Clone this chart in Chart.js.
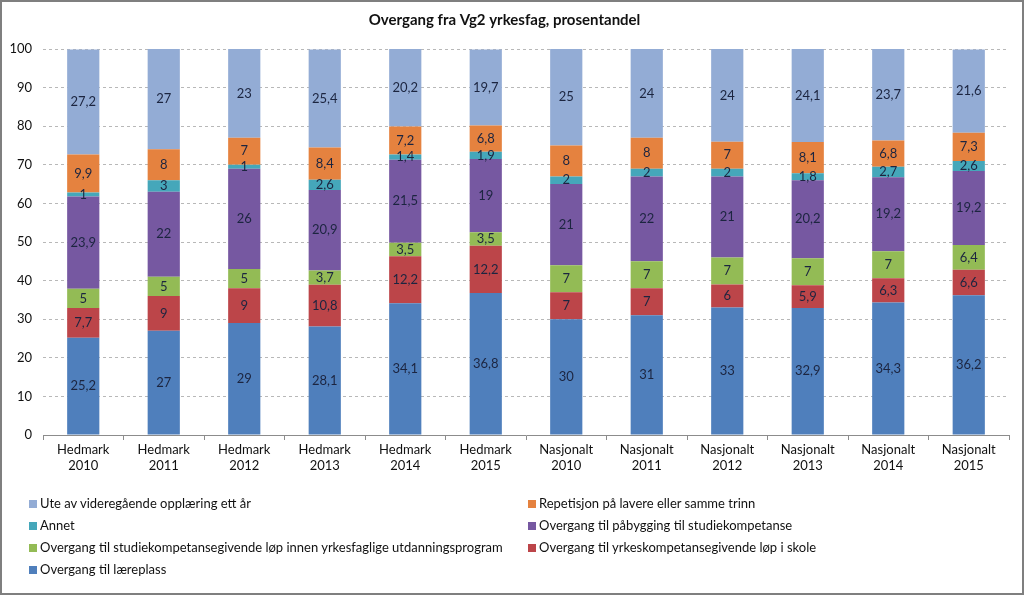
<!DOCTYPE html>
<html>
<head>
<meta charset="utf-8">
<script src="https://cdn.jsdelivr.net/npm/chart.js@4"></script>
<style>
    body { margin: 0; background: #fff; font-family: Lato, "Open Sans", sans-serif; }
    #wrap { position: relative; width: 1024px; height: 595px; }
    #frame { position: absolute; left: 0; top: 0; width: 1024px; height: 595px; box-sizing: border-box;
             border: 2px solid #7f7f7f; pointer-events: none; }
    #legend { position: absolute; left: 0; top: 492px; width: 1024px; }
    .item { position: absolute; font-size: 13px; color: #111; white-space: nowrap; line-height: 22px; }
    .item span.box { display: inline-block; width: 8px; height: 8px; margin-right: 3px; vertical-align: 0px; }
</style>
</head>
<body>
<div id="wrap">
    <canvas id="chart" width="1024" height="595"></canvas>
    <div id="legend"></div>
    <div id="frame"></div>
</div>
<script>
const categories = [
    ['Hedmark', '2010'], ['Hedmark', '2011'], ['Hedmark', '2012'], ['Hedmark', '2013'],
    ['Hedmark', '2014'], ['Hedmark', '2015'], ['Nasjonalt', '2010'], ['Nasjonalt', '2011'],
    ['Nasjonalt', '2012'], ['Nasjonalt', '2013'], ['Nasjonalt', '2014'], ['Nasjonalt', '2015']
];
const yTicks = [0, 10, 20, 30, 40, 50, 60, 70, 80, 90, 100];

const laereplass = [25.2, 27, 29, 28.1, 34.1, 36.8, 30, 31, 33, 32.9, 34.3, 36.2];
const yrkesSkole = [7.7, 9, 9, 10.8, 12.2, 12.2, 7, 7, 6, 5.9, 6.3, 6.6];
const studieYrkesfag = [5, 5, 5, 3.7, 3.5, 3.5, 7, 7, 7, 7, 7, 6.4];
const paabygging = [23.9, 22, 26, 20.9, 21.5, 19, 21, 22, 21, 20.2, 19.2, 19.2];
const annet = [1, 3, 1, 2.6, 1.4, 1.9, 2, 2, 2, 1.8, 2.7, 2.6];
const repetisjon = [9.9, 8, 7, 8.4, 7.2, 6.8, 8, 8, 7, 8.1, 6.8, 7.3];
const uteAv = [27.2, 27, 23, 25.4, 20.2, 19.7, 25, 24, 24, 24.1, 23.7, 21.6];

const FONT = 'Lato, "Open Sans", sans-serif';

// bottom-up stacking order, same as the original chart
const series = [
    { label: 'Overgang til læreplass', data: laereplass, color: '#4f7fbc' },
    { label: 'Overgang til yrkeskompetansegivende løp i skole', data: yrkesSkole, color: '#bc4549' },
    { label: 'Overgang til studiekompetansegivende løp innen yrkesfaglige utdanningsprogram', data: studieYrkesfag, color: '#93bb55' },
    { label: 'Overgang til påbygging til studiekompetanse', data: paabygging, color: '#7658a1' },
    { label: 'Annet', data: annet, color: '#45a7ba' },
    { label: 'Repetisjon på lavere eller samme trinn', data: repetisjon, color: '#e5823f' },
    { label: 'Ute av videregående opplæring ett år', data: uteAv, color: '#93acd5' }
];

// value labels in the middle of each segment
const segmentLabels = {
    id: 'segmentLabels',
    afterDatasetsDraw(chart) {
        const ctx = chart.ctx;
        ctx.save();
        ctx.font = '13px ' + FONT;
        ctx.fillStyle = '#1c2540';
        ctx.textAlign = 'center';
        ctx.textBaseline = 'middle';
        chart.data.datasets.forEach((ds, i) => {
            chart.getDatasetMeta(i).data.forEach((bar, j) => {
                const top = Math.max(bar.y, chart.chartArea.top);
                const mid = (top + bar.base) / 2;
                ctx.fillText(String(ds.data[j]).replace('.', ','), bar.x, mid);
            });
        });
        ctx.restore();
    }
};

function renderChart() {
    const ctx = document.getElementById('chart').getContext('2d');
    new Chart(ctx, {
        type: 'bar',
        data: {
            labels: categories,
            datasets: series.map(s => ({
                label: s.label,
                data: s.data,
                backgroundColor: s.color,
                borderWidth: 0,
                barPercentage: 0.4,
                categoryPercentage: 1
            }))
        },
        options: {
            responsive: false,
            animation: false,
            layout: { padding: { top: 0, right: 15, bottom: 112, left: 0 } },
            plugins: {
                legend: { display: false },
                tooltip: { enabled: false },
                title: {
                    display: true,
                    text: 'Overgang fra Vg2 yrkesfag, prosentandel',
                    color: '#111',
                    font: { family: FONT, size: 15, weight: 'bold' },
                    padding: { top: 11, bottom: 20 }
                }
            },
            scales: {
                x: {
                    stacked: true,
                    grid: { display: true, drawOnChartArea: false, drawTicks: true, tickLength: 5, color: '#8c8c8c', offset: true },
                    border: { color: '#8c8c8c' },
                    ticks: { color: '#111', font: { family: FONT, size: 13 }, padding: 2, maxRotation: 0 },
                    afterFit(scale) { scale.height = 48; }
                },
                y: {
                    stacked: true,
                    min: 0,
                    max: 100,
                    afterBuildTicks(scale) { scale.ticks = yTicks.map(v => ({ value: v })); },
                    grid: { color: '#b8b8b8', drawTicks: false },
                    border: { display: false, dash: [3, 3] },
                    ticks: { color: '#111', font: { family: FONT, size: 13 }, padding: 11 },
                    afterFit(scale) { scale.width = 43; }
                }
            }
        },
        plugins: [segmentLabels]
    });
}

function renderLegend() {
    const legend = document.getElementById('legend');
    const ordered = series.slice().reverse();
    ordered.forEach((s, i) => {
        const div = document.createElement('div');
        div.className = 'item';
        div.style.left = (i % 2 === 0 ? 29 : 528) + 'px';
        div.style.top = (Math.floor(i / 2) * 22) + 'px';
        div.innerHTML = '<span class="box" style="background:' + s.color + '"></span>' + s.label;
        legend.appendChild(div);
    });
}

renderChart();
renderLegend();
</script>
</body>
</html>
